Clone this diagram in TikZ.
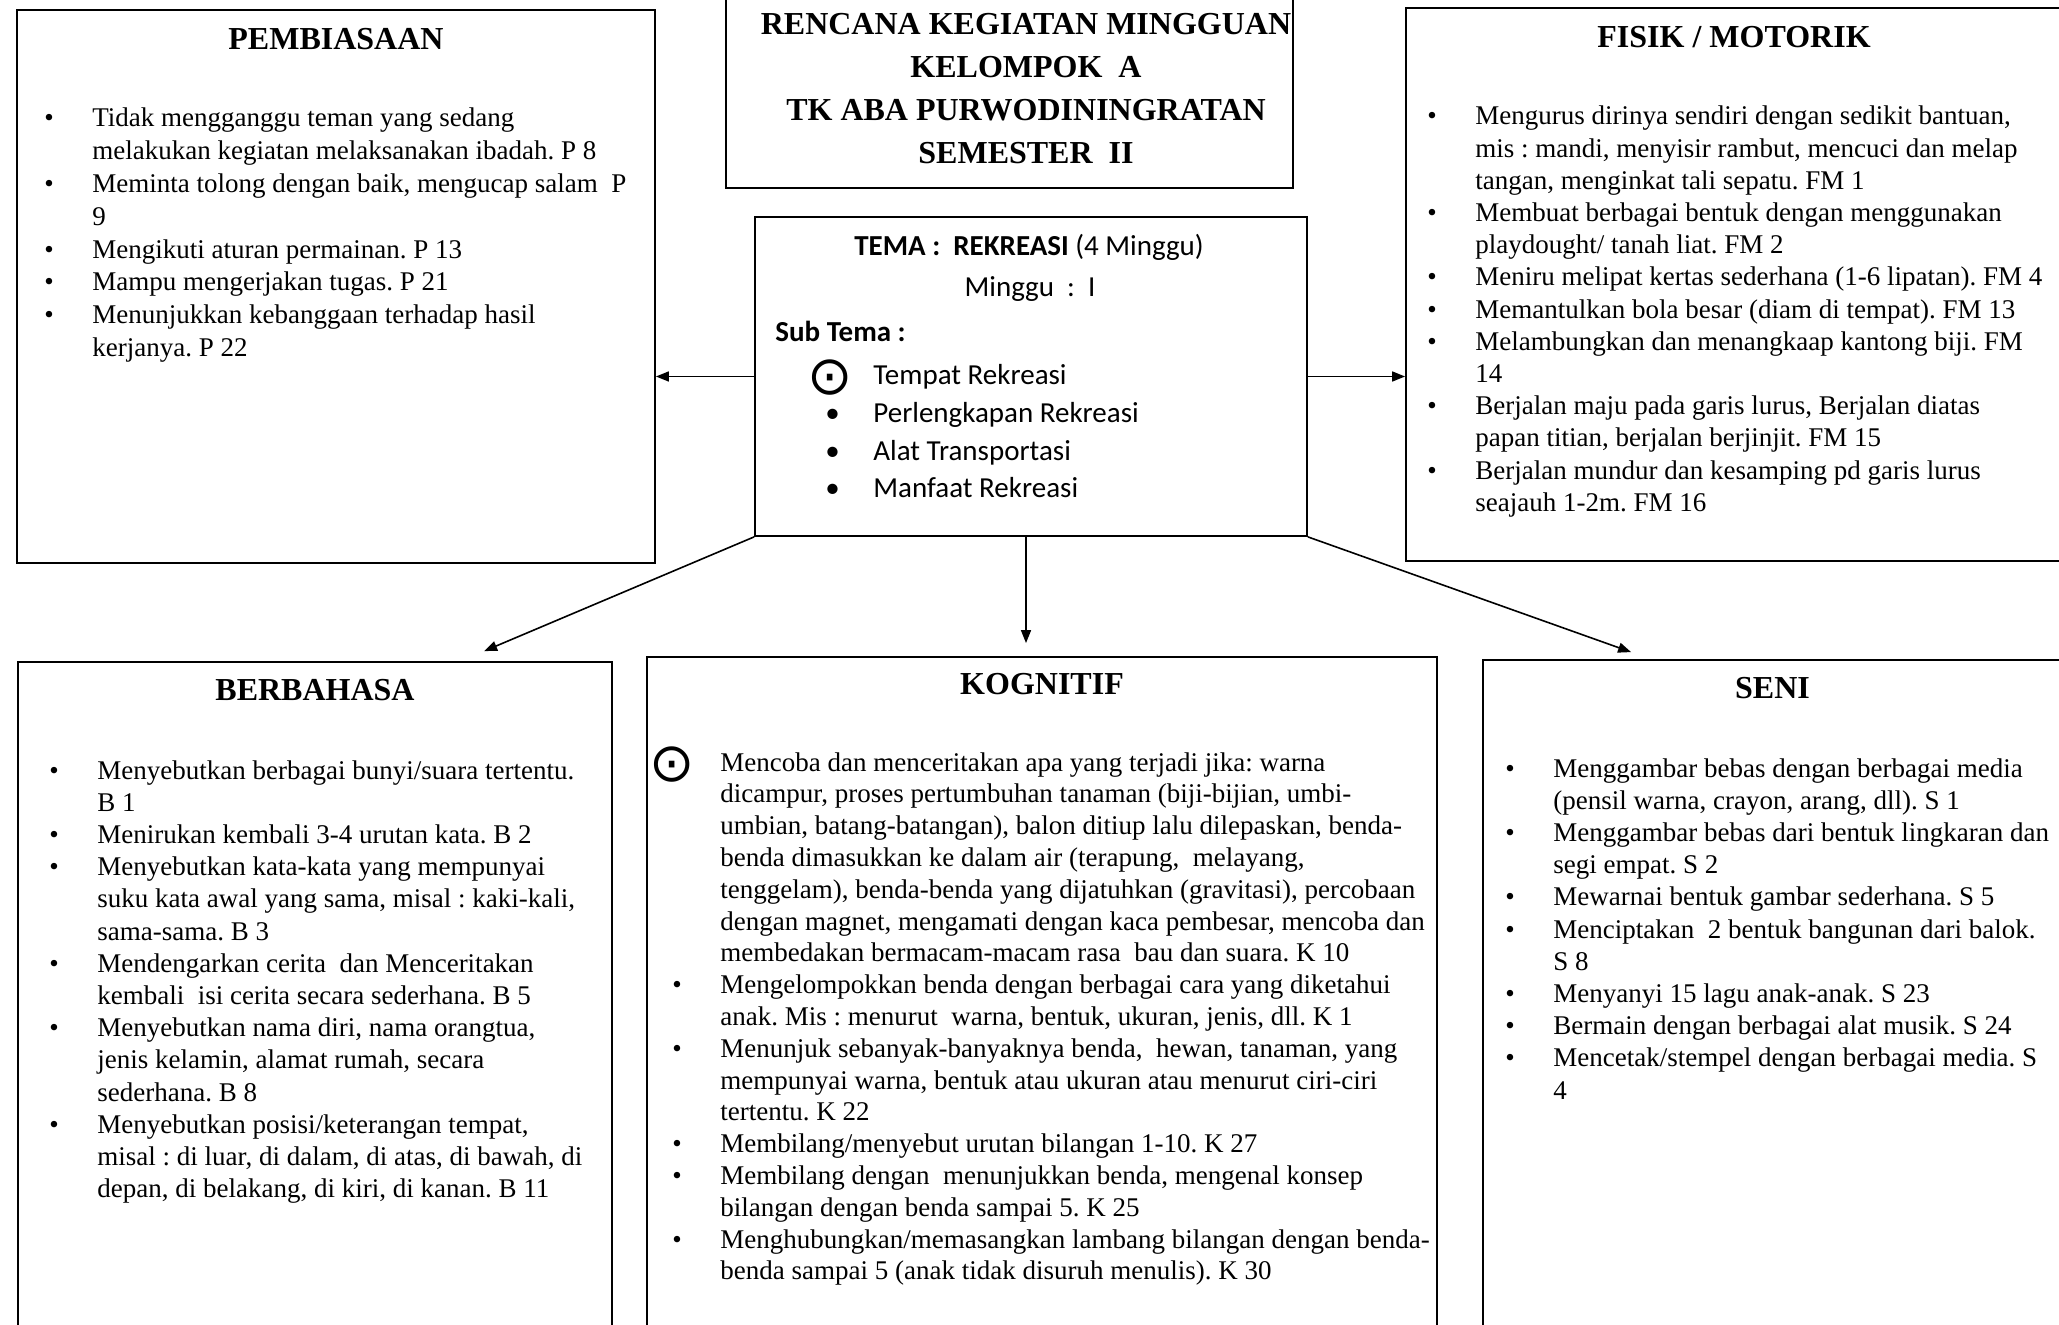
\documentclass[tikz,border=0pt]{standalone}
\usepackage{fontspec}
\setmainfont{Liberation Serif}
\newfontfamily\calibri{Carlito}
\newfontfamily\dejavu{DejaVu Sans}
\usetikzlibrary{positioning, arrows.meta, fit, calc}
\frenchspacing

\newlength\bulind
\setlength\bulind{24pt}
% butir daftar: titik biasa dan lingkaran bertitik
\newcommand\butir[1]{\par\noindent\hangindent=\bulind\hangafter=1%
  \makebox[\bulind][l]{\textbullet}#1}
\newcommand\butirc[2][2.5pt]{\par\noindent\hangindent=\bulind\hangafter=1%
  \makebox[\bulind][l]{\hspace*{#1}\makebox[0pt]{\smash{\raisebox{-5pt}{\fontsize{27}{27}\dejavu ⊙}}}}#2}
\newenvironment{isi}{\begin{minipage}[t]{400pt}\raggedright}{\par\end{minipage}}

\begin{document}
\begin{tikzpicture}[
    x=0.5pt, y=-0.5pt,
    frame/.style={draw, line width=0.9pt, inner sep=0pt},
    judul/.style={font=\bfseries\fontsize{16}{21.5}\selectfont, inner sep=0pt},
    daftar/.style={anchor=base west, inner sep=0pt,
                   font=\fontsize{13.5}{16.1}\selectfont},
    tema/.style={font=\calibri\fontsize{14.5}{18.8}\selectfont, inner sep=0pt},
    arrow/.style={-{Triangle[length=6.5pt, width=5pt]}, line width=0.8pt}
]
\useasboundingbox (0,0) rectangle (2059,1325);

% kotak
\node[frame, fit={(17,10) (655,563)}] (pemb) {};
\node[frame, fit={(726,-5) (1293,188)}] (rencana) {};
\node[frame, fit={(755,217) (1307,536)}] (tema) {};
\node[frame, fit={(1406,8) (2062,561)}] (fisik) {};
\node[frame, fit={(18,662) (612,1330)}] (berb) {};
\node[frame, fit={(647,657) (1437,1330)}] (kog) {};
\node[frame, fit={(1483,660) (2062,1330)}] (seni) {};

% judul
\node[judul, align=center, anchor=north] (rencanateks) at (1026,13)
  {RENCANA KEGIATAN MINGGUAN\\KELOMPOK\ \ A\\TK ABA PURWODININGRATAN\\SEMESTER\ \ II};
\node[judul, below=9.5pt of pemb.north] (pembjudul) {PEMBIASAAN};
\node[judul, below=9.5pt of fisik.north] (fisikjudul) {FISIK / MOTORIK};
\node[judul, below=9pt of berb.north] (berbjudul) {BERBAHASA};
\node[judul, below=8.5pt of kog.north] (kogjudul) {KOGNITIF};
\node[judul, below=9pt of seni.north] (senijudul) {SENI};

% tema
\node[tema] (temajudul) at (1029,247) {\textbf{TEMA :\ \ REKREASI} (4 Minggu)};
\node[tema] (minggu) at (1030,289) {Minggu\ \ :\ \ I};
\node[tema, anchor=west] (subtema) at (775,331) {\textbf{Sub Tema :}};
\node[daftar, tema, anchor=base west] (subisi) at (825,385) {\begin{isi}
  \butirc{Tempat Rekreasi}
  \butir{Perlengkapan Rekreasi}
  \butir{Alat Transportasi}
  \butir{Manfaat Rekreasi}
\end{isi}};

% isi
\node[daftar, font=\fontsize{13.5}{16.4}\selectfont] (pembisi) at (44,127) {\begin{isi}
  \butir{Tidak mengganggu teman yang sedang\newline melakukan kegiatan melaksanakan ibadah. P 8}
  \butir{Meminta tolong dengan baik, mengucap salam\ \ P\newline 9}
  \butir{Mengikuti aturan permainan. P 13}
  \butir{Mampu mengerjakan tugas. P 21}
  \butir{Menunjukkan kebanggaan terhadap hasil\newline kerjanya. P 22}
\end{isi}};

\node[daftar] (fisikisi) at (1427,125) {\begin{isi}
  \butir{Mengurus dirinya sendiri dengan sedikit bantuan,\newline mis : mandi, menyisir rambut, mencuci dan melap\newline tangan, menginkat tali sepatu. FM 1}
  \butir{Membuat berbagai bentuk dengan menggunakan\newline playdought/ tanah liat. FM 2}
  \butir{Meniru melipat kertas sederhana (1-6 lipatan). FM 4}
  \butir{Memantulkan bola besar (diam di tempat). FM 13}
  \butir{Melambungkan dan menangkaap kantong biji. FM\newline 14}
  \butir{Berjalan maju pada garis lurus, Berjalan diatas\newline papan titian, berjalan berjinjit. FM 15}
  \butir{Berjalan mundur dan kesamping pd garis lurus\newline seajauh 1-2m. FM 16}
\end{isi}};

\node[daftar] (berbisi) at (49,779) {\begin{isi}
  \butir{Menyebutkan berbagai bunyi/suara tertentu.\newline B 1}
  \butir{Menirukan kembali 3-4 urutan kata. B 2}
  \butir{Menyebutkan kata-kata yang mempunyai\newline suku kata awal yang sama, misal : kaki-kali,\newline sama-sama. B 3}
  \butir{Mendengarkan cerita\ \ dan Menceritakan\newline kembali\ \ isi cerita secara sederhana. B 5}
  \butir{Menyebutkan nama diri, nama orangtua,\newline jenis kelamin, alamat rumah, secara\newline sederhana. B 8}
  \butir{Menyebutkan posisi/keterangan tempat,\newline misal : di luar, di dalam, di atas, di bawah, di\newline depan, di belakang, di kiri, di kanan. B 11}
\end{isi}};

\node[daftar, font=\fontsize{13.5}{15.9}\selectfont] (kogisi) at (672,771) {\begin{isi}
  \butirc[0pt]{Mencoba dan menceritakan apa yang terjadi jika: warna\newline dicampur, proses pertumbuhan tanaman (biji-bijian, umbi-\newline umbian, batang-batangan), balon ditiup lalu dilepaskan, benda-\newline benda dimasukkan ke dalam air (terapung,\ \ melayang,\newline tenggelam), benda-benda yang dijatuhkan (gravitasi), percobaan\newline dengan magnet, mengamati dengan kaca pembesar, mencoba dan\newline membedakan bermacam-macam rasa\ \ bau dan suara. K 10}
  \butir{Mengelompokkan benda dengan berbagai cara yang diketahui\newline anak. Mis : menurut\ \ warna, bentuk, ukuran, jenis, dll. K 1}
  \butir{Menunjuk sebanyak-banyaknya benda,\ \ hewan, tanaman, yang\newline mempunyai warna, bentuk atau ukuran atau menurut ciri-ciri\newline tertentu. K 22}
  \butir{Membilang/menyebut urutan bilangan 1-10. K 27}
  \butir{Membilang dengan\ \ menunjukkan benda, mengenal konsep\newline bilangan dengan benda sampai 5. K 25}
  \butir{Menghubungkan/memasangkan lambang bilangan dengan benda-\newline benda sampai 5 (anak tidak disuruh menulis). K 30}
\end{isi}};

\node[daftar] (seniisi) at (1505,777) {\begin{isi}
  \butir{Menggambar bebas dengan berbagai media\newline (pensil warna, crayon, arang, dll). S 1}
  \butir{Menggambar bebas dari bentuk lingkaran dan\newline segi empat. S 2}
  \butir{Mewarnai bentuk gambar sederhana. S 5}
  \butir{Menciptakan\ \ 2 bentuk bangunan dari balok.\newline S 8}
  \butir{Menyanyi 15 lagu anak-anak. S 23}
  \butir{Bermain dengan berbagai alat musik. S 24}
  \butir{Mencetak/stempel dengan berbagai media. S\newline 4}
\end{isi}};

% panah
\coordinate (turun) at ($(tema.south)+(-5,0)$);
\draw[arrow] (tema.west) -- (tema.west -| pemb.east);
\draw[arrow] (tema.east) -- (tema.east -| fisik.west);
\draw[arrow] (tema.south west) -- ($(berb.north west)+(467,-10)$);
\draw[arrow, shorten >=6.5pt] (turun) -- (turun |- kog.north);
\draw[arrow] (tema.south east) -- ($(seni.north west)+(149,-7)$);
\end{tikzpicture}
\end{document}
